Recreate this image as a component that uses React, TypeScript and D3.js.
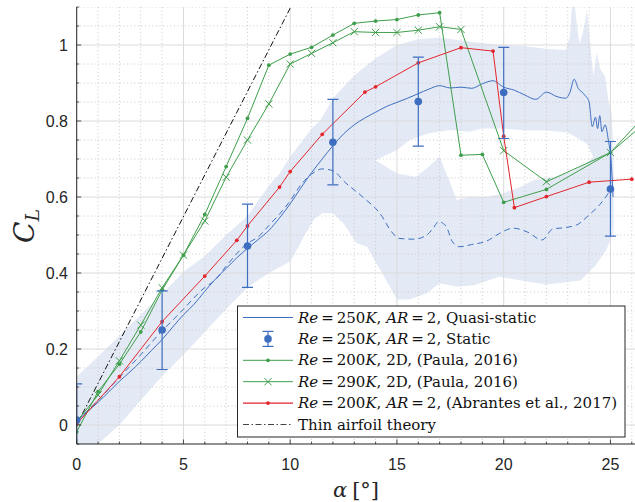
import React from "react";
import * as d3 from "d3";

// ---- data ----
const xTicks = [0, 5, 10, 15, 20, 25];
const yTicks = [0, 0.2, 0.4, 0.6, 0.8, 1];
const yTickLabels = ["0", "0.2", "0.4", "0.6", "0.8", "1"];

// quasi-static, Re=250K AR=2 (solid, increasing alpha)
const qsUpAlpha = [0, 0.5, 1, 1.5, 2, 2.5, 3, 3.5, 4, 4.5, 5, 5.5, 6, 6.5, 7, 7.5, 8, 8.5, 9, 9.5, 10, 10.5, 11, 11.5, 12, 12.5, 13, 13.5, 14, 14.5, 15, 15.5, 16, 16.5, 17, 17.5, 18, 18.5, 19, 19.5, 20, 20.5, 21, 21.5, 22, 22.5, 22.9, 23.1, 23.3, 23.5, 23.65, 23.8, 24.0, 24.15, 24.3, 24.4, 24.5, 24.6, 24.75, 24.9, 25.05, 25.12];
const qsUpCl = [0.01, 0.035, 0.06, 0.087, 0.115, 0.14, 0.167, 0.196, 0.225, 0.258, 0.29, 0.318, 0.352, 0.384, 0.412, 0.44, 0.465, 0.488, 0.512, 0.545, 0.582, 0.624, 0.664, 0.7, 0.735, 0.766, 0.79, 0.808, 0.823, 0.838, 0.849, 0.86, 0.872, 0.884, 0.893, 0.887, 0.889, 0.886, 0.898, 0.906, 0.889, 0.881, 0.868, 0.857, 0.876, 0.864, 0.86, 0.875, 0.91, 0.885, 0.877, 0.868, 0.85, 0.785, 0.81, 0.78, 0.814, 0.772, 0.79, 0.75, 0.68, 0.6];

// quasi-static (dashed, decreasing alpha)
const qsDownAlpha = [0, 1, 2, 3, 4, 4.5, 5, 6, 6.5, 7, 8, 8.5, 9, 9.5, 10, 10.5, 11, 11.5, 12, 12.6, 13.4, 14.2, 14.8, 15.1, 15.8, 16.4, 16.7, 16.95, 17.3, 17.6, 17.95, 18.5, 19.2, 19.8, 20.45, 21.1, 21.8, 22.3, 22.8, 23.4, 24.0, 24.5, 25.05];
const qsDownCl = [0.01, 0.065, 0.125, 0.185, 0.248, 0.276, 0.305, 0.362, 0.382, 0.418, 0.478, 0.495, 0.525, 0.555, 0.59, 0.632, 0.66, 0.674, 0.669, 0.637, 0.6, 0.557, 0.505, 0.491, 0.489, 0.5, 0.518, 0.535, 0.523, 0.482, 0.469, 0.475, 0.484, 0.504, 0.518, 0.508, 0.487, 0.516, 0.519, 0.526, 0.553, 0.58, 0.622];

// scatter band around the increasing branch
const bandUpTopAlpha = [0, 1, 2, 3, 4, 5, 6, 7, 8, 9, 9.5, 10, 11, 11.4, 12, 13, 14, 15, 16, 17, 18, 19, 20, 21, 22, 22.9, 23.1, 23.25, 23.4, 23.55, 23.7, 23.9, 24.06, 24.2, 24.36, 24.5, 24.75, 24.9, 25.06, 25.15];
const bandUpTopCl = [0.127, 0.18, 0.235, 0.29, 0.345, 0.403, 0.445, 0.5, 0.55, 0.63, 0.662, 0.706, 0.78, 0.8, 0.86, 0.92, 0.965, 1.0, 1.015, 1.02, 1.012, 1.005, 1.0, 0.997, 0.99, 0.987, 1.02, 1.15, 1.066, 1.004, 1.03, 1.09, 1.0, 0.917, 0.98, 0.94, 0.917, 0.855, 0.82, 0.7];
const bandUpBotAlpha = [0, 1, 2, 3, 4, 5, 6, 7, 8, 9, 10, 10.5, 11, 12, 13, 14, 15, 15.6, 16.5, 17.5, 18.4, 19, 20, 21, 22, 23, 23.9, 24.4, 25, 25.15];
const bandUpBotCl = [-0.1, -0.05, 0.0, 0.065, 0.128, 0.185, 0.245, 0.305, 0.362, 0.4, 0.43, 0.48, 0.54, 0.6, 0.66, 0.697, 0.724, 0.75, 0.768, 0.776, 0.772, 0.78, 0.78, 0.775, 0.775, 0.77, 0.74, 0.68, 0.55, 0.5];

// scatter band around the decreasing branch
const bandDownTopAlpha = [10, 11, 12, 13, 14, 15, 15.9, 16.5, 17, 17.5, 17.8, 18.4, 19.2, 20, 20.8, 21.4, 22.4, 23.2, 23.9, 24.5, 25, 25.1];
const bandDownTopCl = [0.7, 0.77, 0.78, 0.73, 0.697, 0.662, 0.653, 0.68, 0.706, 0.636, 0.592, 0.6, 0.6, 0.61, 0.627, 0.645, 0.653, 0.667, 0.69, 0.72, 0.74, 0.7];
const bandDownBotAlpha = [10, 10.5, 10.8, 11.1, 11.5, 12, 12.5, 13.1, 13.6, 14.2, 14.5, 15, 15.6, 16.4, 17, 17.8, 18.6, 19.8, 20.8, 22, 23.6, 24.3, 24.8, 25.1];
const bandDownBotCl = [0.43, 0.49, 0.51, 0.54, 0.557, 0.557, 0.53, 0.479, 0.469, 0.41, 0.38, 0.33, 0.33, 0.347, 0.373, 0.364, 0.368, 0.39, 0.38, 0.37, 0.38, 0.42, 0.46, 0.5];

// static measurements with error bars
const staticAlpha = [0, 4, 8, 12, 16, 20, 25];
const staticCl = [0.013, 0.25, 0.471, 0.744, 0.851, 0.875, 0.621];
const staticHigh = [0.108, 0.353, 0.581, 0.857, 0.968, 0.994, 0.746];
const staticLow = [-0.08, 0.146, 0.362, 0.632, 0.734, 0.754, 0.497];

// Paula 2016, Re=200K
const paula200Alpha = [0, 1, 2, 3, 4, 5, 6, 7, 8, 9, 10, 11, 12, 13, 14, 15, 16, 17, 18, 19, 20, 22, 25, 27];
const paula200Cl = [-0.018, 0.088, 0.16, 0.245, 0.355, 0.447, 0.554, 0.68, 0.807, 0.947, 0.976, 0.994, 1.026, 1.057, 1.063, 1.067, 1.079, 1.085, 0.71, 0.712, 0.586, 0.62, 0.717, 0.838];

// Paula 2016, Re=290K
const paula290Alpha = [0, 1, 2, 3, 4, 5, 6, 7, 8, 9, 10, 11, 12, 13, 14, 15, 16, 17, 18, 20, 22, 25, 27];
const paula290Cl = [0.009, 0.079, 0.169, 0.263, 0.361, 0.447, 0.537, 0.652, 0.75, 0.845, 0.95, 0.978, 1.006, 1.035, 1.033, 1.033, 1.039, 1.048, 1.041, 0.722, 0.64, 0.717, 0.813];

// Abrantes et al. 2017
const abrantesAlpha = [0, 2, 4, 6, 7.5, 8, 9.5, 10, 11.5, 13.5, 14, 16, 18, 19.5, 20, 20.5, 22, 24, 26];
const abrantesCl = [0.003, 0.127, 0.272, 0.392, 0.486, 0.524, 0.626, 0.667, 0.765, 0.876, 0.89, 0.953, 0.993, 0.984, 0.76, 0.572, 0.601, 0.639, 0.647];

// thin airfoil theory
const thinAlpha = [0, 10];
const thinCl = [0, 1.097];

const BLUE = "#3e6ec0";
const GREEN = "#3f9e4b";
const RED = "#e2262c";
const BAND = "#e4eaf5";
const INK = "#262626";

const W = 635;
const H = 502;
const left = 76.7;
const right = 635;
const top = 7;
const bottom = 444;

const x = d3.scaleLinear().domain([0, 26.15]).range([left, right]);
const y = d3.scaleLinear().domain([-0.05, 1.1]).range([bottom, top]);

const zip = (a: number[], b: number[]) => a.map((v, i) => [v, b[i]] as [number, number]);

const line = d3
  .line<[number, number]>()
  .x((d) => x(d[0]))
  .y((d) => y(d[1]));
const smooth = d3
  .line<[number, number]>()
  .x((d) => x(d[0]))
  .y((d) => y(d[1]))
  .curve(d3.curveMonotoneX);

const bandPath = (ta: number[], tc: number[], ba: number[], bc: number[]) => {
  const pts = zip(ta, tc).concat(zip(ba, bc).reverse());
  return line(pts) + "Z";
};

const Mark = ({ kind, cx, cy, color }: { kind: string; cx: number; cy: number; color: string }) => {
  if (kind === "x") {
    const s = 3.6;
    return (
      <path
        d={`M${cx - s},${cy - s}L${cx + s},${cy + s}M${cx - s},${cy + s}L${cx + s},${cy - s}`}
        stroke={color}
        strokeWidth={1}
        fill="none"
      />
    );
  }
  return <circle cx={cx} cy={cy} r={1.9} fill={color} />;
};

const ErrBar = ({ cx, cm, ch, cl }: { cx: number; cm: number; ch: number; cl: number }) => (
  <g stroke={BLUE} strokeWidth={1.2} fill="none">
    <line x1={cx} x2={cx} y1={ch} y2={cl} />
    <line x1={cx - 5.5} x2={cx + 5.5} y1={ch} y2={ch} />
    <line x1={cx - 5.5} x2={cx + 5.5} y1={cl} y2={cl} />
    <circle cx={cx} cy={cm} r={3.8} fill={BLUE} stroke="none" />
  </g>
);

type Part = [string, boolean];
const reLabel = (re: string): Part[] => [
  ["Re", true],
  ["\u2009=\u2009" + re, false],
  ["K", true],
];
const arLabel: Part[] = [
  [", ", false],
  ["AR", true],
  ["\u2009=\u20092", false],
];
const legendRows: { parts: Part[]; kind: string }[] = [
  { parts: [...reLabel("250"), ...arLabel, [", Quasi-static", false]], kind: "qs" },
  { parts: [...reLabel("250"), ...arLabel, [", Static", false]], kind: "static" },
  { parts: [...reLabel("200"), [", 2D, (Paula, 2016)", false]], kind: "p200" },
  { parts: [...reLabel("290"), [", 2D, (Paula, 2016)", false]], kind: "p290" },
  { parts: [...reLabel("200"), ...arLabel, [", (Abrantes et al., 2017)", false]], kind: "abr" },
  { parts: [["Thin airfoil theory", false]], kind: "thin" },
];

export default function App() {
  const xMinor = d3.range(0, 27, 1);
  const yMinor = d3.range(-0.05, 1.101, 0.05);
  const yMajor = [0, 0.2, 0.4, 0.6, 0.8, 1.0];

  const lx0 = 243;
  const lx1 = 293;
  const legendY = (i: number) => 317.5 + i * 21.4;

  return (
    <svg
      width={W}
      height={H}
      style={{ position: "absolute", left: 0, top: 0, background: "#fff" }}
      fontFamily="'Liberation Sans', Arial, sans-serif"
    >
      <defs>
        <clipPath id="plot">
          <rect x={left} y={top} width={right - left} height={bottom - top} />
        </clipPath>
      </defs>

      <g clipPath="url(#plot)">
        {/* scatter bands */}
        <path d={bandPath(bandUpTopAlpha, bandUpTopCl, bandUpBotAlpha, bandUpBotCl)} fill={BAND} />
        <path d={bandPath(bandDownTopAlpha, bandDownTopCl, bandDownBotAlpha, bandDownBotCl)} fill={BAND} />

        {/* grid */}
        {xMinor.filter((v) => v % 5 !== 0).map((v) => (
          <line key={"xm" + v} x1={x(v)} x2={x(v)} y1={top} y2={bottom} stroke="#c4c4c4" strokeWidth={0.9} strokeDasharray="1 2.6" />
        ))}
        {yMinor.filter((v) => !yMajor.some((m) => Math.abs(m - v) < 1e-6)).map((v, i) => (
          <line key={"ym" + i} x1={left} x2={right} y1={y(v)} y2={y(v)} stroke="#c4c4c4" strokeWidth={0.9} strokeDasharray="1 2.6" />
        ))}
        {xTicks.map((v) => (
          <line key={"xg" + v} x1={x(v)} x2={x(v)} y1={top} y2={bottom} stroke="#dadada" strokeWidth={1} />
        ))}
        {yMajor.map((v) => (
          <line key={"yg" + v} x1={left} x2={right} y1={y(v)} y2={y(v)} stroke="#dadada" strokeWidth={1} />
        ))}

        {/* thin airfoil */}
        <path d={line(zip(thinAlpha, thinCl))!} stroke="#111" strokeWidth={1} fill="none" strokeDasharray="6 2.5 1.5 2.5" />

        {/* quasi-static */}
        <path d={smooth(zip(qsDownAlpha, qsDownCl))!} stroke={BLUE} strokeWidth={1} fill="none" strokeDasharray="6 4" />
        <path d={smooth(zip(qsUpAlpha, qsUpCl))!} stroke={BLUE} strokeWidth={1} fill="none" />

        {/* Paula */}
        <path d={line(zip(paula200Alpha, paula200Cl))!} stroke={GREEN} strokeWidth={1} fill="none" />
        {paula200Alpha.map((a, i) => (
          <Mark key={"p2" + i} kind="dot" cx={x(a)} cy={y(paula200Cl[i])} color={GREEN} />
        ))}
        <path d={line(zip(paula290Alpha, paula290Cl))!} stroke={GREEN} strokeWidth={1} fill="none" />
        {paula290Alpha.map((a, i) => (
          <Mark key={"p9" + i} kind="x" cx={x(a)} cy={y(paula290Cl[i])} color={GREEN} />
        ))}

        {/* Abrantes */}
        <path d={line(zip(abrantesAlpha, abrantesCl))!} stroke={RED} strokeWidth={1} fill="none" />
        {abrantesAlpha.map((a, i) => (
          <Mark key={"ab" + i} kind="dot" cx={x(a)} cy={y(abrantesCl[i])} color={RED} />
        ))}

        {/* static */}
        {staticAlpha.map((a, i) => (
          <ErrBar key={"st" + i} cx={x(a)} cm={y(staticCl[i])} ch={y(staticHigh[i])} cl={y(staticLow[i])} />
        ))}
      </g>

      {/* axes */}
      <line x1={left} x2={left} y1={top} y2={bottom} stroke={INK} strokeWidth={1} />
      <line x1={left} x2={right} y1={bottom} y2={bottom} stroke={INK} strokeWidth={1} />
      {xMinor.map((v) => (
        <line key={"xt" + v} x1={x(v)} x2={x(v)} y1={bottom} y2={bottom - (v % 5 === 0 ? 4.5 : 2.5)} stroke={INK} strokeWidth={0.8} />
      ))}
      {yMinor.map((v, i) => (
        <line
          key={"yt" + i}
          x1={left}
          x2={left + (yMajor.some((m) => Math.abs(m - v) < 1e-6) ? 4.5 : 2.5)}
          y1={y(v)}
          y2={y(v)}
          stroke={INK}
          strokeWidth={0.8}
        />
      ))}
      {xTicks.map((v) => (
        <text key={"xl" + v} x={x(v)} y={470} textAnchor="middle" fontSize={16} fill={INK}>
          {v}
        </text>
      ))}
      {yTicks.map((v, i) => (
        <text key={"yl" + v} x={68} y={y(v) + 5.8} textAnchor="end" fontSize={16} fill={INK}>
          {yTickLabels[i]}
        </text>
      ))}

      {/* axis labels */}
      <text x={356} y={497} textAnchor="middle" fontFamily="'DejaVu Serif', serif" fontSize={21} fill={INK}>
        <tspan fontStyle="italic">α</tspan>
        <tspan dx={5}>[°]</tspan>
      </text>
      <text transform="translate(34,226) rotate(-90)" textAnchor="middle" fontFamily="'DejaVu Serif', serif" fill={INK}>
        <tspan fontStyle="italic" fontSize={28}>C</tspan>
        <tspan fontStyle="italic" fontSize={19} dy={5}>L</tspan>
      </text>

      {/* legend */}
      <rect x={237.5} y={306} width={387.5} height={131} fill="#fff" stroke={INK} strokeWidth={1} />
      {legendRows.map((row, i) => {
        const cy = legendY(i);
        const mid = (lx0 + lx1) / 2;
        let sample: React.ReactNode = null;
        if (row.kind === "qs") sample = <line x1={lx0} x2={lx1} y1={cy} y2={cy} stroke={BLUE} strokeWidth={1} />;
        if (row.kind === "static")
          sample = <ErrBar cx={mid} cm={cy} ch={cy - 7.5} cl={cy + 7.5} />;
        if (row.kind === "p200")
          sample = (
            <g>
              <line x1={lx0} x2={lx1} y1={cy} y2={cy} stroke={GREEN} strokeWidth={1} />
              <Mark kind="dot" cx={mid} cy={cy} color={GREEN} />
            </g>
          );
        if (row.kind === "p290")
          sample = (
            <g>
              <line x1={lx0} x2={lx1} y1={cy} y2={cy} stroke={GREEN} strokeWidth={1} />
              <Mark kind="x" cx={mid} cy={cy} color={GREEN} />
            </g>
          );
        if (row.kind === "abr")
          sample = (
            <g>
              <line x1={lx0} x2={lx1} y1={cy} y2={cy} stroke={RED} strokeWidth={1.2} />
              <Mark kind="dot" cx={mid} cy={cy} color={RED} />
            </g>
          );
        if (row.kind === "thin")
          sample = <line x1={lx0} x2={lx1} y1={cy} y2={cy} stroke="#444" strokeWidth={1} strokeDasharray="6 2.5 1.5 2.5" />;
        return (
          <g key={"lg" + i}>
            {sample}
            <text x={298} y={cy + 5} fontFamily="'DejaVu Serif', serif" fontSize={15} fill="#111">
              {row.parts.map(([t, it], j) => (
                <tspan key={j} fontStyle={it ? "italic" : "normal"}>
                  {t}
                </tspan>
              ))}
            </text>
          </g>
        );
      })}
    </svg>
  );
}
